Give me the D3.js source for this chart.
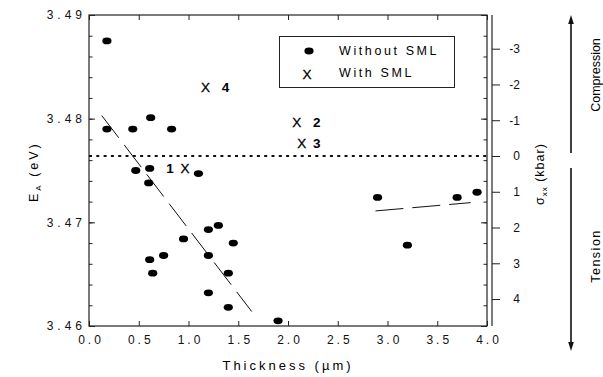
<!DOCTYPE html>
<html>
<head>
<meta charset="utf-8">
<script src="https://cdn.jsdelivr.net/npm/d3@7"></script>
<style>
  body { margin: 0; background: #fff; }
  svg { display: block; font-family: "Liberation Sans", Arial, sans-serif; }
</style>
</head>
<body>
<svg id="chart" width="603" height="377"></svg>
<script>
// thickness (um) and E_A (eV), samples without SML
const thickness = [0.18, 0.18, 0.44, 0.62, 0.83, 0.47, 0.61, 0.60, 1.10, 0.61, 0.64, 0.75, 0.95, 1.20, 1.30, 1.20, 1.45, 1.40, 1.20, 1.40, 1.90, 2.90, 3.20, 3.70, 3.90];
const energy = [3.4875, 3.4790, 3.4790, 3.4801, 3.4790, 3.4750, 3.4752, 3.4738, 3.4747, 3.4664, 3.4651, 3.4668, 3.4684, 3.4693, 3.4697, 3.4668, 3.4680, 3.4651, 3.4632, 3.4618, 3.4605, 3.4724, 3.4678, 3.4724, 3.4729];

// samples with SML
const smlLabels = ["1", "2", "3", "4"];
const smlThickness = [0.965, 2.087, 2.138, 1.171];
const smlEnergy = [3.4752, 3.4797, 3.4776, 3.4830];

// dashed guide lines, [thickness, energy] end points
const fitLow = [[0.128, 3.4803], [1.635, 3.4614]];
const fitHigh = [[2.879, 3.4711], [3.836, 3.4719]];

// stress scale: sigma = (E0 - E) / kPerBar
const E0 = 3.4764;
const kPerBar = 0.00345;

const xTicks = [0, 0.5, 1, 1.5, 2, 2.5, 3, 3.5, 4];
const yTicks = [3.46, 3.47, 3.48, 3.49];
const yMinor = d3.range(3.46, 3.4901, 0.002);
const sigmaTicks = [-3, -2, -1, 0, 1, 2, 3, 4];

const svg = d3.select("#chart");
const pL = 89, pR = 487, pT = 15, pB = 326;

const x = d3.scaleLinear([0, 4], [pL, pR]);
const y = d3.scaleLinear([3.46, 3.49], [pB, pT]);
const ys = d3.scaleLinear([(E0 - 3.46) / kPerBar, (E0 - 3.49) / kPerBar], [pB, pT]);

function tidy(g) {
  g.select(".domain").remove();
  g.selectAll("line").attr("stroke", "#222");
  g.selectAll("text").attr("fill", "#111").attr("font-family", "Liberation Sans, Arial, sans-serif");
}

// frame
svg.append("rect")
  .attr("x", pL).attr("y", pT)
  .attr("width", pR - pL).attr("height", pB - pT)
  .attr("fill", "none").attr("stroke", "#222").attr("stroke-width", 1.2);

// left axis
svg.append("g")
  .attr("transform", `translate(${pL},0)`)
  .call(d3.axisLeft(y).tickValues(yMinor).tickSize(-3.5).tickFormat(""))
  .call(tidy);
svg.append("g")
  .attr("transform", `translate(${pL},0)`)
  .call(d3.axisLeft(y).tickValues(yTicks).tickSize(-6).tickPadding(3).tickFormat(d3.format(".2f")))
  .call(tidy)
  .selectAll("text")
  .attr("font-size", 12).attr("letter-spacing", 4);

// mirrored ticks on the right frame
svg.append("g")
  .attr("transform", `translate(${pR},0)`)
  .call(d3.axisRight(y).tickValues(yMinor).tickSize(-3.5).tickFormat(""))
  .call(tidy);
svg.append("g")
  .attr("transform", `translate(${pR},0)`)
  .call(d3.axisRight(y).tickValues(yTicks).tickSize(-6).tickFormat(""))
  .call(tidy);

// top and bottom
svg.append("g")
  .attr("transform", `translate(0,${pT})`)
  .call(d3.axisTop(x).tickValues(xTicks).tickSize(-5).tickFormat(""))
  .call(tidy);
svg.append("g")
  .attr("transform", `translate(0,${pB})`)
  .call(d3.axisBottom(x).tickValues(xTicks).tickSize(-5).tickPadding(9).tickFormat(d3.format(".1f")))
  .call(tidy)
  .selectAll("text")
  .attr("font-size", 12).attr("letter-spacing", 3).attr("dx", 1.5);

// stress axis
const sAxis = svg.append("g")
  .attr("transform", `translate(${pR + 5},0)`)
  .call(d3.axisRight(ys).tickValues(sigmaTicks).tickSize(8).tickFormat(d => String(d)));
sAxis.select(".domain").attr("d", `M0,${pT}V${pB}`).attr("stroke", "#222").attr("stroke-width", 1.2);
sAxis.selectAll("line").attr("stroke", "#222");
sAxis.selectAll("text")
  .attr("fill", "#111").attr("font-size", 12)
  .attr("font-family", "Liberation Sans, Arial, sans-serif")
  .attr("text-anchor", "end").attr("x", 28);

// zero stress line
svg.append("line")
  .attr("x1", pL).attr("x2", pR)
  .attr("y1", ys(0)).attr("y2", ys(0))
  .attr("stroke", "#111").attr("stroke-width", 2)
  .attr("stroke-dasharray", "3,4.3");

// dashed guides
const line = d3.line().x(d => x(d[0])).y(d => y(d[1]));
[fitLow, fitHigh].forEach(seg => {
  svg.append("path")
    .attr("d", line(seg))
    .attr("fill", "none").attr("stroke", "#111").attr("stroke-width", 1)
    .attr("stroke-dasharray", "28,9");
});

// points without SML
svg.append("g")
  .selectAll("ellipse")
  .data(d3.range(thickness.length))
  .join("ellipse")
  .attr("cx", i => x(thickness[i]))
  .attr("cy", i => y(energy[i]))
  .attr("rx", 4.6).attr("ry", 3.4)
  .attr("fill", "#000");

// points with SML
const labelDx = { "1": -15, "2": 20, "3": 15, "4": 20 };
const sml = svg.append("g").attr("font-size", 13.5);
sml.selectAll("text.mark")
  .data(d3.range(smlLabels.length))
  .join("text")
  .attr("class", "mark")
  .attr("x", i => x(smlThickness[i]))
  .attr("y", i => y(smlEnergy[i]) + 4.8)
  .attr("text-anchor", "middle")
  .attr("fill", "#000")
  .attr("stroke", "#000").attr("stroke-width", 0.3)
  .text("X");
sml.selectAll("text.num")
  .data(d3.range(smlLabels.length))
  .join("text")
  .attr("class", "num")
  .attr("x", i => x(smlThickness[i]) + labelDx[smlLabels[i]])
  .attr("y", i => y(smlEnergy[i]) + 4.8)
  .attr("text-anchor", "middle")
  .attr("font-weight", "bold")
  .attr("fill", "#000")
  .text(i => smlLabels[i]);

// legend
const legend = svg.append("g");
legend.append("rect")
  .attr("x", 279.5).attr("y", 36.5).attr("width", 175).attr("height", 51)
  .attr("fill", "#fff").attr("stroke", "#222").attr("stroke-width", 1);
legend.append("ellipse")
  .attr("cx", 309).attr("cy", 51).attr("rx", 4.6).attr("ry", 3.4).attr("fill", "#000");
legend.append("text")
  .attr("x", 307).attr("y", 78.5).attr("text-anchor", "middle").attr("font-size", 13.5)
  .attr("stroke", "#000").attr("stroke-width", 0.3)
  .text("X");
legend.append("text")
  .attr("x", 339).attr("y", 55).attr("font-size", 12.5).attr("letter-spacing", 2.6)
  .text("Without SML");
legend.append("text")
  .attr("x", 339).attr("y", 77).attr("font-size", 12.5).attr("letter-spacing", 2.6)
  .text("With SML");

// axis titles
svg.append("text")
  .attr("x", 288).attr("y", 370)
  .attr("text-anchor", "middle").attr("font-size", 13).attr("letter-spacing", 3)
  .text("Thickness (\u00b5m)");

const yTitle = svg.append("text")
  .attr("transform", "translate(37.5,202) rotate(-90)")
  .attr("font-size", 12.5).attr("letter-spacing", 3);
yTitle.append("tspan").text("E");
yTitle.append("tspan").attr("font-size", 8).attr("dy", 3).attr("letter-spacing", 2).text("A");
yTitle.append("tspan").attr("dy", -3).text(" (eV)");

const sTitle = svg.append("text")
  .attr("transform", "translate(543.5,205) rotate(-90)")
  .attr("font-size", 12.5).attr("letter-spacing", 1);
sTitle.append("tspan").text("\u03c3");
sTitle.append("tspan").attr("font-size", 8).attr("dy", 3).text("xx");
sTitle.append("tspan").attr("dy", -3).text(" (kbar)");

// compression / tension arrows
const ax = 571;
const arrowY = [[153, 15], [168, 351]];
arrowY.forEach(([from, to]) => {
  const dir = to < from ? -1 : 1;
  svg.append("line")
    .attr("x1", ax).attr("x2", ax).attr("y1", from).attr("y2", to - dir * 6)
    .attr("stroke", "#111").attr("stroke-width", 1.6);
  svg.append("path")
    .attr("d", `M${ax},${to}L${ax - 2.8},${to - dir * 9}L${ax + 2.8},${to - dir * 9}Z`)
    .attr("fill", "#111");
});
svg.append("text")
  .attr("transform", "translate(599.5,75) rotate(-90)")
  .attr("text-anchor", "middle").attr("font-size", 12.5)
  .text("Compression");
svg.append("text")
  .attr("transform", "translate(599.5,256) rotate(-90)")
  .attr("text-anchor", "middle").attr("font-size", 12.5).attr("letter-spacing", 1.5)
  .text("Tension");
</script>
</body>
</html>
